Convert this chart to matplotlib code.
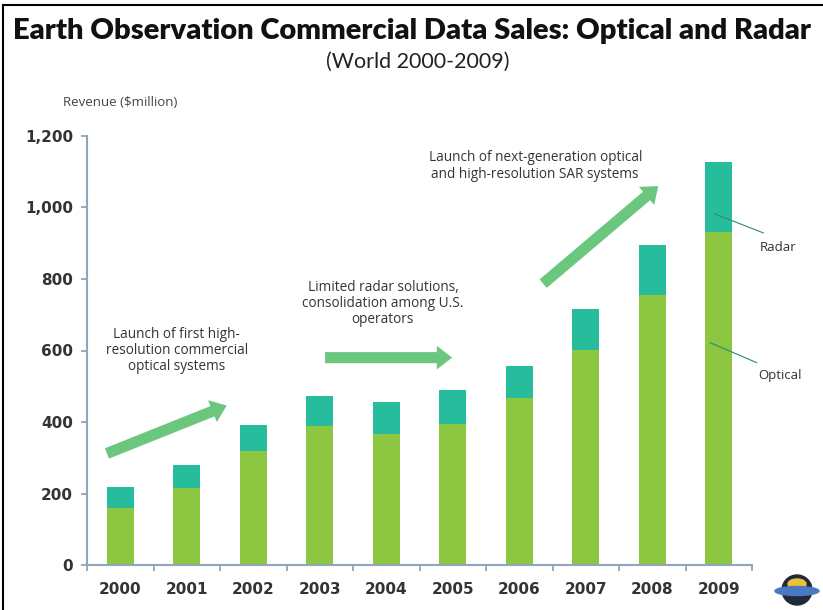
#!/usr/bin/env python3
import matplotlib
matplotlib.use("Agg")
import matplotlib.pyplot as plt
from matplotlib.lines import Line2D
from matplotlib.patches import Ellipse

years = ["2000", "2001", "2002", "2003", "2004", "2005", "2006", "2007", "2008", "2009"]
optical = [160, 214, 319, 389, 367, 395, 467, 601, 755, 932]
radar = [57, 65, 74, 83, 89, 95, 89, 115, 140, 196]
yticks = [0, 200, 400, 600, 800, 1000, 1200]

optical_color = "#8dc641"
radar_color = "#27bd9c"
arrow_color = "#6cc77e"
text_color = "#333333"
axis_color = "#8ea6bb"

fig = plt.figure(figsize=(8.23, 6.10), dpi=100)
ax = fig.add_axes([87 / 823, 45 / 610, 665 / 823, 429 / 610])

x = list(range(len(years)))
ax.bar(x, optical, width=0.41, color=optical_color, zorder=2)
ax.bar(x, radar, width=0.41, bottom=optical, color=radar_color, zorder=2)

ax.set_xlim(-0.5, 9.5)
ax.set_ylim(0, 1200)
ax.set_yticks(yticks)
ax.set_yticklabels([f"{v:,}" for v in yticks], fontsize=11, color=text_color,
                   fontweight="bold", fontfamily="DejaVu Sans")
ax.set_xticks(x)
ax.set_xticklabels(years, fontsize=11, color=text_color, fontweight="bold",
                   fontfamily="DejaVu Sans")
ax.tick_params(axis="x", length=0, pad=12)
ax.set_xticks([i - 0.5 for i in range(len(years) + 1)], minor=True)
ax.tick_params(axis="x", which="minor", length=4, width=1.3, color=axis_color, direction="out")
ax.tick_params(axis="y", length=4, width=1.3, color=axis_color, pad=6)
for s in ["top", "right"]:
    ax.spines[s].set_visible(False)
for s in ["left", "bottom"]:
    ax.spines[s].set_color(axis_color)
    ax.spines[s].set_linewidth(1.5)

# arrows
arrow_style = "simple,head_width=17,head_length=11,tail_width=8"
arrows = [((-0.2, 312), (1.6, 446)), ((3.08, 580), (4.99, 580)), ((6.36, 787), (8.09, 1060))]
for tail, head in arrows:
    ax.annotate("", xy=head, xytext=tail,
                arrowprops=dict(arrowstyle=arrow_style, color=arrow_color, lw=0,
                                shrinkA=0, shrinkB=0, mutation_scale=1),
                zorder=3)

note_font = dict(fontsize=9.8, color=text_color, ha="center", va="center",
                 fontfamily="Open Sans", linespacing=1.1)
ax.text(0.85, 600, "Launch of first high-\nresolution commercial\noptical systems", **note_font)
ax.text(3.95, 731, "Limited radar solutions,\nconsolidation among U.S.\noperators", **note_font)
ax.text(6.24, 1116, "Launch of next-generation optical\nand high-resolution SAR systems",
        **note_font)

# series labels with leader lines
ax.plot([8.94, 9.67], [982, 929], color="#2a8a7a", lw=0.8, zorder=4, clip_on=False)
ax.plot([8.87, 9.57], [622, 566], color="#2a8a7a", lw=0.8, zorder=4, clip_on=False)
ax.text(9.89, 887, "Radar", fontsize=9.5, color=text_color, ha="center", va="center",
        fontfamily="Open Sans")
ax.text(9.92, 530, "Optical", fontsize=9.5, color=text_color, ha="center", va="center",
        fontfamily="Open Sans")

fig.text(412 / 823, 1 - 31 / 610, "Earth Observation Commercial Data Sales: Optical and Radar",
         fontsize=21, fontweight="heavy", ha="center", va="center", color="#111111",
         fontfamily="Lato")
fig.text(418 / 823, 1 - 62 / 610, "(World 2000-2009)", fontsize=15.5, ha="center",
         va="center", color="#222222", fontfamily="Lato")
fig.text(120 / 823, 1 - 103 / 610, "Revenue ($million)", fontsize=9.5, ha="center",
         va="center", color="#444444", fontfamily="Open Sans")

# small logo in the corner
fig.add_artist(Ellipse((797 / 823, 1 - 590 / 610), 30 / 823, 30 / 610, color="#1e2a3a"))
fig.add_artist(Ellipse((797 / 823, 1 - 584 / 610), 18 / 823, 10 / 610, color="#e9c23a"))
fig.add_artist(Ellipse((797 / 823, 1 - 591 / 610), 44 / 823, 9 / 610, color="#4a78c2"))

# frame of the slide
fig.add_artist(Line2D([3 / 823, 3 / 823], [0, 1 - 5 / 610], color="black", lw=1.5))
fig.add_artist(Line2D([3 / 823, 1], [1 - 5 / 610, 1 - 5 / 610], color="black", lw=1.5))

fig.savefig("out.png", dpi=100)
